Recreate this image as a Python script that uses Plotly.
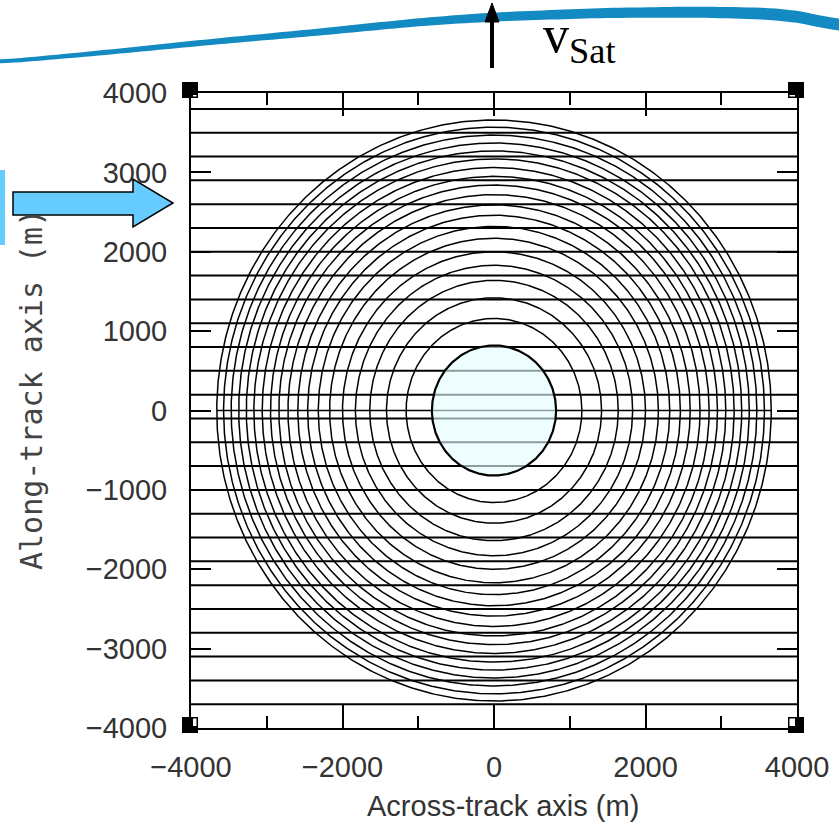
import numpy as np
import plotly.graph_objects as go

# ---------------- data ----------------
track_y = [3800, 3500, 3200, 2900, 2600, 2300, 2000, 1700, 1400, 1100, 800, 500, 200,
           -100, -400, -700, -1000, -1300, -1600, -1900, -2200, -2500, -2800, -3100, -3400, -3700]
ring_radii = [820, 1160, 1420, 1640, 1830, 2000, 2170, 2320, 2460, 2590,
              2720, 2840, 2950, 3060, 3170, 3270, 3370, 3470, 3570, 3660]
footprint_radius = 820
x_range = [-4000, 4000]
y_range = [-4000, 4000]
x_major_ticks = [-4000, -2000, 0, 2000, 4000]
x_minor_ticks = [-3000, -1000, 1000, 3000]
y_ticks = [-4000, -3000, -2000, -1000, 0, 1000, 2000, 3000, 4000]

W, H = 839, 837
ML, MR, MT, MB = 191, 42, 93, 109
PW, PH = W - ML - MR, H - MT - MB


def pxx(x):
    return (x - ML) / PW


def pyy(y):
    return (H - MB - y) / PH


theta = np.linspace(0, 2 * np.pi, 721)

fig = go.Figure()

# track lines
hx, hy = [], []
for v in track_y:
    hx += [x_range[0], x_range[1], None]
    hy += [v, v, None]
fig.add_trace(go.Scatter(x=hx, y=hy, mode="lines", line=dict(color="black", width=2),
                         hoverinfo="skip", showlegend=False))

# rings
cx, cy = [], []
for r in ring_radii[1:]:
    cx += list(r * np.cos(theta)) + [None]
    cy += list(r * np.sin(theta)) + [None]
fig.add_trace(go.Scatter(x=cx, y=cy, mode="lines", line=dict(color="black", width=1.5),
                         hoverinfo="skip", showlegend=False))

# diameter line
rmax = max(ring_radii)
fig.add_trace(go.Scatter(x=[-rmax, rmax], y=[0, 0], mode="lines",
                         line=dict(color="black", width=1.5), hoverinfo="skip", showlegend=False))

# filled footprint
fig.add_trace(go.Scatter(x=footprint_radius * np.cos(theta), y=footprint_radius * np.sin(theta),
                         mode="lines", fill="toself", fillcolor="rgba(228,252,252,0.62)",
                         line=dict(color="black", width=2.2), hoverinfo="skip", showlegend=False))

shapes = []

# corner squares (pixel geometry of the frame)
FX0, FX1, FY0, FY1 = ML, W - MR, MT, H - MB
for sx, fx in [(-1, FX0), (1, FX1)]:
    for sy, fy in [(-1, FY1), (1, FY0)]:
        bx0, bx1 = fx - 9, fx + 7
        by0, by1 = fy - 11, fy + 5
        shapes.append(dict(type="rect", xref="paper", yref="paper",
                           x0=pxx(bx0), x1=pxx(bx1), y0=pyy(by1), y1=pyy(by0),
                           fillcolor="black", line=dict(width=0), layer="above"))
        # white part inside the frame
        wx0, wx1 = (fx + 2, bx1 - 1.5) if sx < 0 else (bx0 + 1.5, fx - 2)
        wy0, wy1 = (fy + 2, by1 - 1.5) if sy > 0 else (by0 + 1.5, fy - 2)
        shapes.append(dict(type="rect", xref="paper", yref="paper",
                           x0=pxx(wx0), x1=pxx(wx1), y0=pyy(wy1), y1=pyy(wy0),
                           fillcolor="white", line=dict(width=0), layer="above"))

# decorative swoosh at top
sw_x = [0, 100, 210, 320, 420, 492, 600, 700, 780, 815, 839]
sw_c = [62, 53, 42, 32, 22, 17, 13, 12, 14, 19, 27]
sw_t = [4, 5, 6, 7, 8, 9, 10, 11, 12, 12, 12]
gx = np.linspace(0, 839, 120)
gc = np.interp(gx, sw_x, sw_c)
gt = np.interp(gx, sw_x, sw_t)
k = 9
pad = np.pad(gc, k // 2, mode="edge")
gc = np.convolve(pad, np.ones(k) / k, mode="valid")
top = [(pxx(a), pyy(c - t / 2)) for a, c, t in zip(gx, gc, gt)]
bot = [(pxx(a), pyy(c + t / 2)) for a, c, t in zip(gx, gc, gt)][::-1]
pts = top + bot
path = "M " + " L ".join(f"{a:.5f},{b:.5f}" for a, b in pts) + " Z"
shapes.append(dict(type="path", xref="paper", yref="paper", path=path,
                   fillcolor="#138BC2", line=dict(width=0), layer="above"))

# v_sat arrow
shapes.append(dict(type="line", xref="paper", yref="paper",
                   x0=pxx(492), x1=pxx(492), y0=pyy(68), y1=pyy(18),
                   line=dict(color="black", width=4), layer="above"))
shapes.append(dict(type="path", xref="paper", yref="paper",
                   path=f"M {pxx(485)},{pyy(22)} L {pxx(492)},{pyy(3)} L {pxx(499)},{pyy(22)} Z",
                   fillcolor="black", line=dict(color="black", width=1), layer="above"))

# left bar and arrow
shapes.append(dict(type="rect", xref="paper", yref="paper",
                   x0=pxx(0), x1=pxx(5), y0=pyy(245), y1=pyy(170),
                   fillcolor="#66CCFF", line=dict(width=0), layer="above"))
arrow_pts = [(13, 192), (133, 192), (133, 179), (173, 203), (133, 227), (133, 215), (13, 215)]
shapes.append(dict(type="path", xref="paper", yref="paper",
                   path="M " + " L ".join(f"{pxx(a):.5f},{pyy(b):.5f}" for a, b in arrow_pts) + " Z",
                   fillcolor="#66CCFF", line=dict(color="black", width=1.5), layer="above"))

annotations = [
    dict(text="Across-track axis (m)", xref="paper", yref="paper", x=pxx(503), y=pyy(806),
         showarrow=False, xanchor="center", yanchor="middle",
         font=dict(family="Liberation Sans, Arial, sans-serif", size=29, color="#333")),
    dict(text="Along-track axis (m)", xref="paper", yref="paper", x=pxx(31), y=pyy(390),
         showarrow=False, xanchor="center", yanchor="middle", textangle=-90,
         font=dict(family="DejaVu Sans Mono, monospace", size=30, color="#444")),
    dict(text="v<sub>Sat</sub>", xref="paper", yref="paper", x=pxx(541), y=pyy(39),
         showarrow=False, xanchor="left", yanchor="middle",
         font=dict(family="Liberation Serif, Times New Roman, serif", size=52, color="black")),
]

tick_font = dict(family="Liberation Sans, Arial, sans-serif", size=29, color="#333")

fig.update_layout(
    width=W, height=H,
    margin=dict(l=ML, r=MR, t=MT, b=MB, autoexpand=False),
    paper_bgcolor="white", plot_bgcolor="white",
    shapes=shapes, annotations=annotations, showlegend=False,
    xaxis=dict(range=x_range, tickvals=x_major_ticks, ticks="inside", ticklen=23, tickwidth=2,
               tickcolor="black", showline=True, linewidth=2, linecolor="black", mirror="allticks",
               showgrid=False, zeroline=False, tickfont=tick_font, ticklabelstandoff=12,
               automargin=False,
               minor=dict(tickvals=x_minor_ticks, ticks="inside", ticklen=12,
                          tickwidth=2, tickcolor="black", showgrid=False)),
    yaxis=dict(range=y_range, tickvals=y_ticks, ticks="inside", ticklen=20, tickwidth=2,
               tickcolor="black", showline=True, linewidth=2, linecolor="black", mirror="allticks",
               showgrid=False, zeroline=False, tickfont=tick_font, ticklabelstandoff=16,
               automargin=False),
)

fig.write_html("out.html", config={"displayModeBar": False},
               post_script="document.body.style.margin='0';document.body.style.overflow='hidden';")
